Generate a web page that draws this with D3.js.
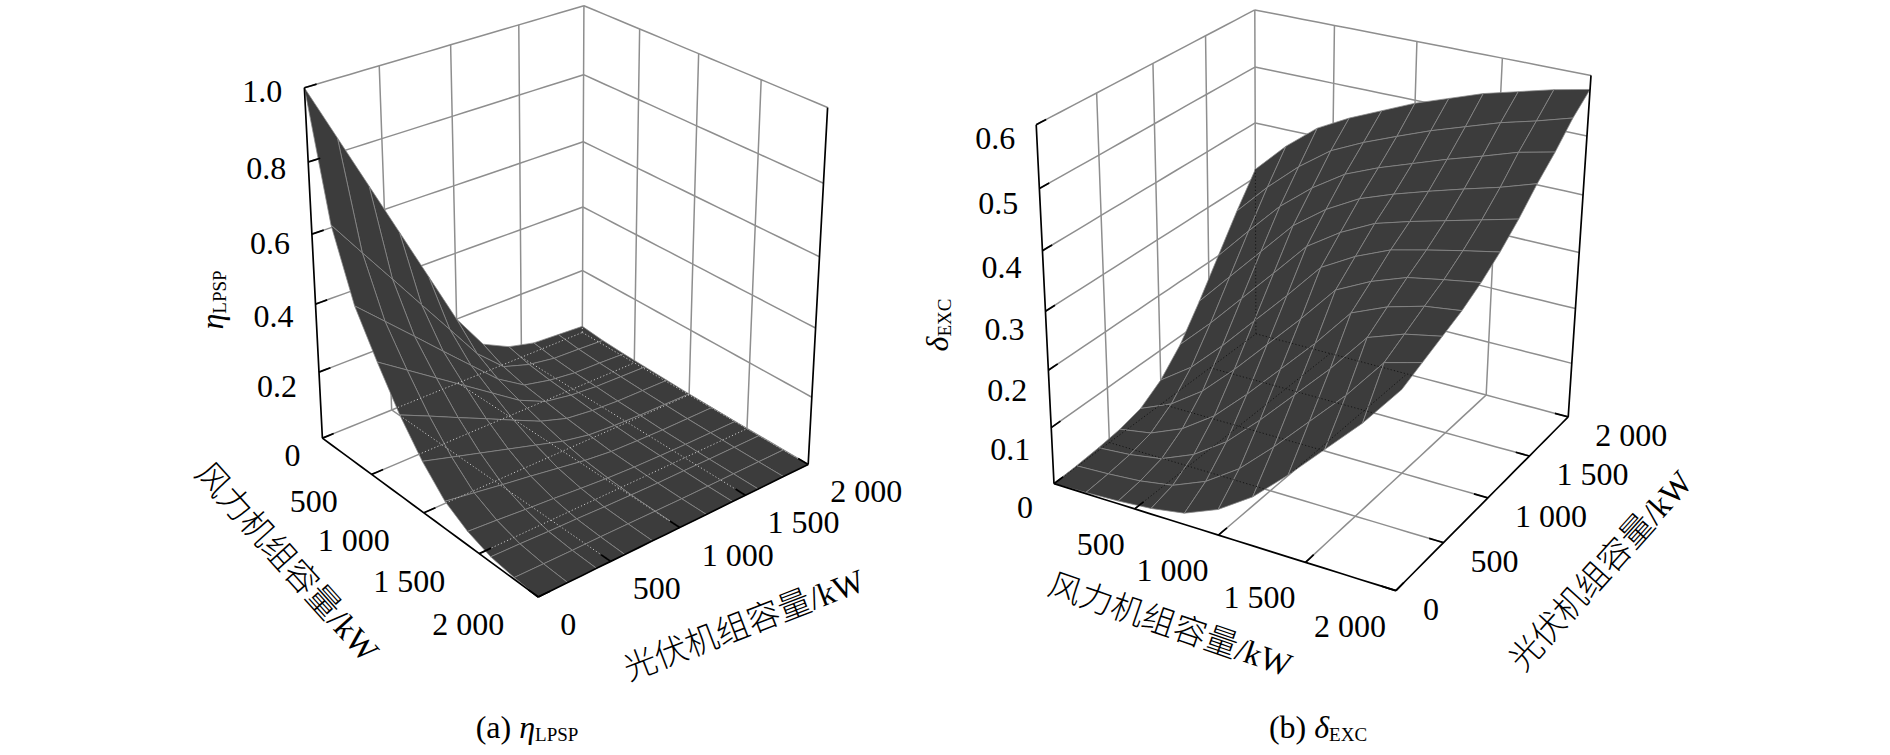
<!DOCTYPE html>
<html><head><meta charset="utf-8">
<script src="https://cdn.jsdelivr.net/npm/d3@7"></script>
<style>body{margin:0;background:#fff} svg{display:block}</style>
</head><body>
<svg id="chart" width="1890" height="755"></svg>
<script>
// ---------------- data ----------------
const windCap = [0,200,400,600,800,1000,1200,1400,1600,1800,2000];
const pvCap   = [0,200,400,600,800,1000,1200,1400,1600,1800,2000];
const windTicks = [500,1000,1500,2000];
const windTickLabels = ["500","1 000","1 500","2 000"];
const pvTicks = [0,500,1000,1500,2000];
const pvTickLabels = ["0","500","1 000","1 500","2 000"];
const lpspTicks = [0,0.2,0.4,0.6,0.8,1.0];
const lpspTickLabels = ["0","0.2","0.4","0.6","0.8","1.0"];
const excTicks = [0,0.1,0.2,0.3,0.4,0.5,0.6];
const excTickLabels = ["0","0.1","0.2","0.3","0.4","0.5","0.6"];
// rows: wind capacity (windCap), columns: PV capacity (pvCap)
const lpsp = [
 [1.000,0.840,0.680,0.520,0.360,0.200,0.090,0.050,0.030,0.025,0.020],
 [0.660,0.554,0.449,0.343,0.238,0.132,0.059,0.033,0.020,0.017,0.013],
 [0.470,0.395,0.320,0.244,0.169,0.094,0.042,0.024,0.014,0.012,0.009],
 [0.350,0.294,0.238,0.182,0.126,0.070,0.032,0.018,0.011,0.009,0.007],
 [0.240,0.202,0.163,0.125,0.086,0.048,0.022,0.012,0.007,0.006,0.005],
 [0.150,0.126,0.102,0.078,0.054,0.030,0.014,0.008,0.005,0.004,0.003],
 [0.080,0.067,0.054,0.042,0.029,0.016,0.007,0.004,0.002,0.002,0.002],
 [0.040,0.034,0.027,0.021,0.014,0.008,0.004,0.002,0.001,0.001,0.001],
 [0.015,0.013,0.010,0.008,0.005,0.003,0.001,0.001,0.000,0.000,0.000],
 [0.005,0.004,0.003,0.003,0.002,0.001,0.000,0.000,0.000,0.000,0.000],
 [0.000,0.000,0.000,0.000,0.000,0.000,0.000,0.000,0.000,0.000,0.000]
];
const excRate = [
 [0.000,0.002,0.005,0.010,0.020,0.045,0.085,0.140,0.200,0.260,0.315],
 [0.002,0.005,0.010,0.020,0.045,0.085,0.140,0.200,0.260,0.317,0.370],
 [0.005,0.010,0.020,0.045,0.085,0.140,0.200,0.260,0.318,0.367,0.415],
 [0.010,0.020,0.045,0.085,0.140,0.200,0.260,0.320,0.364,0.408,0.445],
 [0.020,0.045,0.085,0.140,0.200,0.260,0.321,0.362,0.401,0.435,0.470],
 [0.045,0.085,0.140,0.200,0.260,0.323,0.359,0.394,0.425,0.458,0.495],
 [0.085,0.140,0.200,0.260,0.324,0.356,0.388,0.415,0.445,0.480,0.515],
 [0.140,0.200,0.260,0.326,0.353,0.381,0.405,0.433,0.465,0.499,0.535],
 [0.200,0.260,0.327,0.351,0.374,0.395,0.420,0.450,0.483,0.518,0.550],
 [0.260,0.329,0.348,0.367,0.385,0.408,0.435,0.466,0.502,0.533,0.565],
 [0.330,0.345,0.360,0.375,0.395,0.420,0.450,0.485,0.515,0.550,0.577]
];
const windTitle = "风力机组容量/kW";
const pvTitle = "光伏机组容量/kW";

// ---------------- layout (screen anchors of the view box corners) ----------------
const chartA = {
  id:"a", data:lpsp, zMax:1.0, zTicks:lpspTicks, zLabels:lpspTickLabels,
  sym:"η", sub:"LPSP", cap:"(a) ",
  view:{A:[322,437],B:[538,598],C:[808,463],D:[583,334],At:[305,88],Ct:[828,108],Dt:[583,5]},
  zOff:[-22,3,17], wOff:[-34,27], pOff:[22,27],
  zTitle:[212,300], wTitle:[287,562,48], pTitle:[744,625,-21], capPos:[527,727],
  dotColor:"#c4c4c4"
};
const chartB = {
  id:"b", data:excRate, zMax:0.6, zTicks:excTicks, zLabels:excTickLabels,
  sym:"δ", sub:"EXC", cap:"(b) ",
  view:{A:[1055,484],B:[1395,591],C:[1569,416],D:[1255,334],At:[1036,124],Ct:[1591,76],Dt:[1255,10]},
  zOff:[-21,13,23], wOff:[-10,35], pOff:[27,18],
  zTitle:[937,325], wTitle:[1170,625,19], pTitle:[1601,571,-48], capPos:[1318,727],
  dotColor:"#151515"
};

const FONT = "'Liberation Serif','Times New Roman','Noto Sans CJK SC',serif";

function solveLS(M,b){
  const m=M[0].length;
  const N=Array.from({length:m},()=>new Array(m+1).fill(0));
  M.forEach((row,r)=>{for(let i=0;i<m;i++){for(let j=0;j<m;j++)N[i][j]+=row[i]*row[j];N[i][m]+=row[i]*b[r];}});
  for(let c=0;c<m;c++){
    let piv=c;for(let r=c+1;r<m;r++)if(Math.abs(N[r][c])>Math.abs(N[piv][c]))piv=r;
    [N[c],N[piv]]=[N[piv],N[c]];
    for(let r=0;r<m;r++){if(r===c)continue;const f=N[r][c]/N[c][c];for(let k=c;k<=m;k++)N[r][k]-=f*N[c][k];}
  }
  return N.map((row,i)=>row[m]/row[i]);
}
function makeCamera(v){
  const corr=[[[0,0,0],v.A],[[1,0,0],v.B],[[1,1,0],v.C],[[0,1,0],v.D],[[0,0,1],v.At],[[1,1,1],v.Ct],[[0,1,1],v.Dt]];
  const cx=d3.mean(corr,d=>d[1][0]), cy=d3.mean(corr,d=>d[1][1]), s=300;
  const M=[],b=[];
  corr.forEach(([[X,Y,Z],[x,y]])=>{
    const xn=(x-cx)/s, yn=(y-cy)/s;
    M.push([X,Y,Z,1,0,0,0,0,-xn*X,-xn*Y,-xn*Z]); b.push(xn);
    M.push([0,0,0,0,X,Y,Z,1,-yn*X,-yn*Y,-yn*Z]); b.push(yn);
  });
  const p=solveLS(M,b);
  const den=(X,Y,Z)=>p[8]*X+p[9]*Y+p[10]*Z+1;
  const project=([X,Y,Z])=>{const d=den(X,Y,Z);return [cx+s*(p[0]*X+p[1]*Y+p[2]*Z+p[3])/d, cy+s*(p[4]*X+p[5]*Y+p[6]*Z+p[7])/d];};
  const sign = den(0,1,0)>den(1,0,0)?1:-1;
  const depth=([X,Y,Z])=>sign*den(X,Y,Z);
  return {project,depth};
}

const svg=d3.select("#chart");
const line=d3.line();

function drawChart(cfg){
  const g=svg.append("g");
  const cam=makeCamera(cfg.view);
  const sx=d3.scaleLinear().domain([0,2000]).range([0,1]);
  const sy=d3.scaleLinear().domain([0,2000]).range([0,1]);
  const sz=d3.scaleLinear().domain([0,cfg.zMax]).range([0,1]);
  const P=(w,p,z)=>cam.project([sx(w),sy(p),sz(z)]);
  const seg=(a,b,n=20)=>d3.range(n+1).map(i=>{const t=i/n;return P(a[0]+(b[0]-a[0])*t,a[1]+(b[1]-a[1])*t,a[2]+(b[2]-a[2])*t);});
  const zTop=cfg.zMax;
  const inner=[500,1000,1500];
  const grid=[];
  cfg.zTicks.filter(z=>z>0).forEach(z=>grid.push([[0,0,z],[0,2000,z]]));
  inner.concat([2000]).forEach(p=>grid.push([[0,p,0],[0,p,zTop]]));
  cfg.zTicks.filter(z=>z>0).forEach(z=>grid.push([[0,2000,z],[2000,2000,z]]));
  inner.forEach(w=>grid.push([[w,2000,0],[w,2000,zTop]]));
  const floor=[];
  inner.forEach(w=>floor.push([[w,0,0],[w,2000,0]]));
  inner.forEach(p=>floor.push([[0,p,0],[2000,p,0]]));
  floor.push([[0,0,0],[0,2000,0]]); floor.push([[0,2000,0],[2000,2000,0]]);
  g.append("g").selectAll("path").data(grid.concat(floor)).join("path")
    .attr("d",d=>line(seg(d[0],d[1]))).attr("fill","none").attr("stroke","#8e8e8e").attr("stroke-width",1.5);

  // surface
  const quads=[];
  for(let i=0;i<windCap.length-1;i++)for(let j=0;j<pvCap.length-1;j++){
    const c=[[i,j],[i+1,j],[i+1,j+1],[i,j+1]].map(([a,b])=>[windCap[a],pvCap[b],cfg.data[a][b]]);
    const cen=[d3.mean(c,d=>sx(d[0])),d3.mean(c,d=>sy(d[1])),d3.mean(c,d=>sz(d[2]))];
    quads.push({pts:c.map(d=>P(d[0],d[1],d[2])),depth:cam.depth(cen)});
  }
  quads.sort((a,b)=>b.depth-a.depth);
  const clipId="clip-"+cfg.id;
  svg.append("defs").append("clipPath").attr("id",clipId).selectAll("path").data(quads).join("path")
    .attr("d",d=>line(d.pts)+"Z");
  g.append("g").selectAll("path").data(quads).join("path")
    .attr("d",d=>line(d.pts)+"Z").attr("fill","#3c3c3c").attr("stroke","#8a8a8a")
    .attr("stroke-width",0.75).attr("stroke-linejoin","round");
  g.append("g").attr("clip-path",`url(#${clipId})`).selectAll("path")
    .data(floor.concat([[[0,2000,0],[0,2000,zTop]]])).join("path")
    .attr("d",d=>line(seg(d[0],d[1]))).attr("fill","none").attr("stroke",cfg.dotColor)
    .attr("stroke-width",1).attr("stroke-dasharray","1.2,2.2");

  // black box edges
  const edges=[[[0,0,0],[2000,0,0]],[[2000,0,0],[2000,2000,0]],[[0,0,0],[0,0,zTop]],[[2000,2000,0],[2000,2000,zTop]]];
  g.append("g").selectAll("path").data(edges).join("path")
    .attr("d",d=>line(seg(d[0],d[1]))).attr("fill","none").attr("stroke","#000").attr("stroke-width",1.7);
  const tk=80;
  const ticks=[];
  cfg.zTicks.forEach(z=>ticks.push([[0,0,z],[0,tk,z]]));
  windTicks.forEach(w=>ticks.push([[w,0,0],[w,tk,0]]));
  pvTicks.forEach(p=>ticks.push([[2000,p,0],[2000-tk,p,0]]));
  g.append("g").selectAll("path").data(ticks).join("path")
    .attr("d",d=>line(seg(d[0],d[1],2))).attr("fill","none").attr("stroke","#000").attr("stroke-width",1.7);

  // tick labels
  const txt=g.append("g").attr("font-family",FONT).attr("font-size",32).attr("fill","#000");
  const zdy=d3.scaleLinear().domain([cfg.zMax,0]).range([cfg.zOff[1],cfg.zOff[2]]);
  txt.selectAll("text.z").data(cfg.zTicks).join("text").attr("class","z")
    .attr("x",z=>P(0,0,z)[0]+cfg.zOff[0]).attr("y",z=>P(0,0,z)[1]+zdy(z))
    .attr("text-anchor","end").attr("dominant-baseline","central").text((z,i)=>cfg.zLabels[i]);
  txt.selectAll("text.w").data(windTicks).join("text").attr("class","w")
    .attr("x",w=>P(w,0,0)[0]+cfg.wOff[0]).attr("y",w=>P(w,0,0)[1]+cfg.wOff[1])
    .attr("text-anchor","end").attr("dominant-baseline","central").text((w,i)=>windTickLabels[i]);
  txt.selectAll("text.p").data(pvTicks).join("text").attr("class","p")
    .attr("x",p=>P(2000,p,0)[0]+cfg.pOff[0]).attr("y",p=>P(2000,p,0)[1]+cfg.pOff[1])
    .attr("text-anchor","start").attr("dominant-baseline","central").text((p,i)=>pvTickLabels[i]);

  // axis titles
  const zt=txt.append("text").attr("transform",`translate(${cfg.zTitle[0]},${cfg.zTitle[1]}) rotate(-90)`)
    .attr("text-anchor","middle").attr("dominant-baseline","central");
  zt.append("tspan").attr("font-style","italic").text(cfg.sym);
  zt.append("tspan").attr("font-size",19).attr("dy",7).text(cfg.sub);
  txt.append("text").attr("transform",`translate(${cfg.wTitle[0]},${cfg.wTitle[1]}) rotate(${cfg.wTitle[2]})`)
    .attr("text-anchor","middle").attr("dominant-baseline","central").attr("font-size",33).attr("font-weight",300).text(windTitle);
  txt.append("text").attr("transform",`translate(${cfg.pTitle[0]},${cfg.pTitle[1]}) rotate(${cfg.pTitle[2]})`)
    .attr("text-anchor","middle").attr("dominant-baseline","central").attr("font-size",33).attr("font-weight",300).text(pvTitle);
  const cp=txt.append("text").attr("x",cfg.capPos[0]).attr("y",cfg.capPos[1])
    .attr("text-anchor","middle").attr("dominant-baseline","central");
  cp.append("tspan").text(cfg.cap);
  cp.append("tspan").attr("font-style","italic").text(cfg.sym);
  cp.append("tspan").attr("font-size",19).attr("dy",7).text(cfg.sub);
}
drawChart(chartA);
drawChart(chartB);
</script>
</body></html>
